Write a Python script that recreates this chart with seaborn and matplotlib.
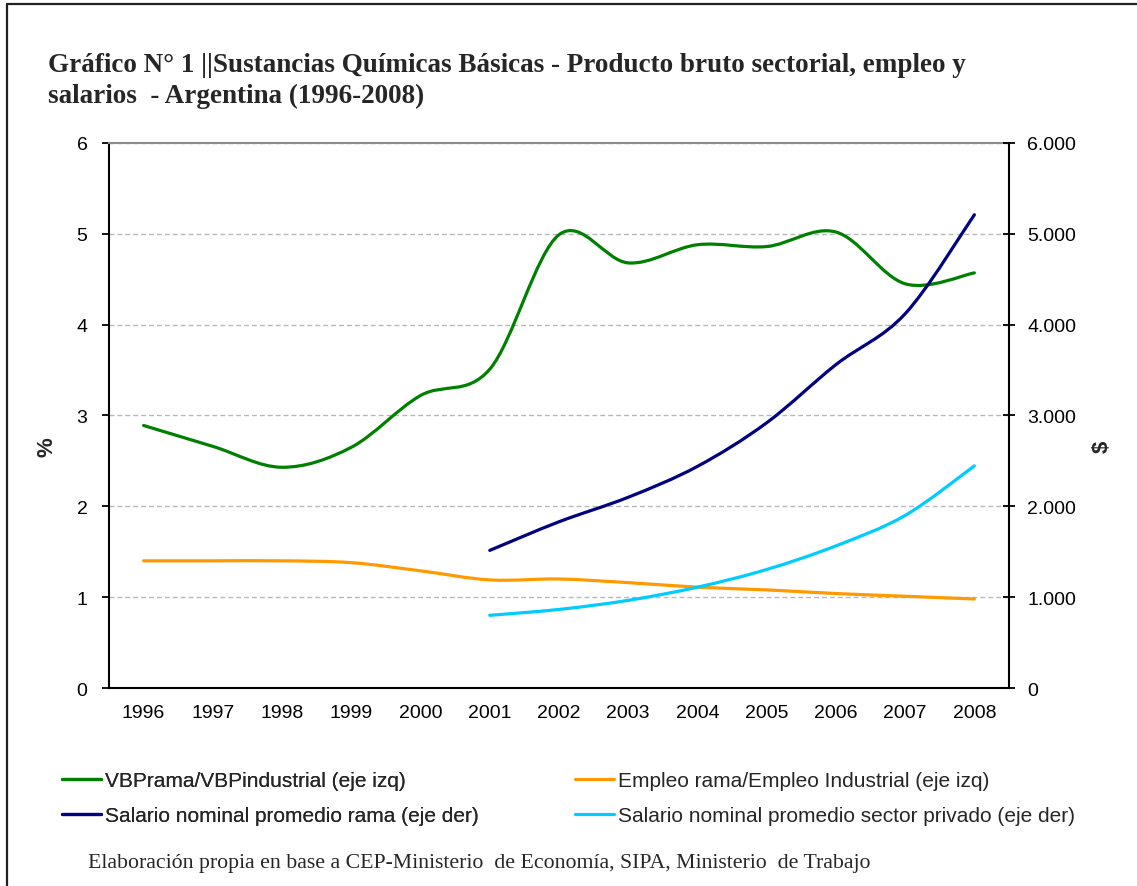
import numpy as np
import pandas as pd
import matplotlib
matplotlib.use("Agg")
import matplotlib.pyplot as plt
from matplotlib.path import Path
from matplotlib.patches import PathPatch
from matplotlib.lines import Line2D
from matplotlib.ticker import FuncFormatter
import seaborn as sns

# ---- data -------------------------------------------------------------
years = list(range(1996, 2009))
vbp_share = [2.89, 2.66, 2.43, 2.65, 3.22, 3.51, 4.99, 4.68, 4.88, 4.86, 5.02, 4.45, 4.57]
empleo_share = [1.40, 1.40, 1.40, 1.38, 1.29, 1.19, 1.20, 1.16, 1.11, 1.08, 1.04, 1.01, 0.98]
sal_years = list(range(2001, 2009))
salario_rama = [1515, 1830, 2100, 2440, 2920, 3560, 4120, 5210]
salario_privado = [800, 865, 965, 1110, 1305, 1565, 1900, 2445]

lbl_vbp = "VBPrama/VBPindustrial (eje izq)"
lbl_emp = "Empleo rama/Empleo Industrial (eje izq)"
lbl_sr = "Salario nominal promedio rama (eje der)"
lbl_sp = "Salario nominal promedio sector privado (eje der)"

c_vbp, c_emp, c_sr, c_sp = "#008000", "#FF9900", "#000080", "#00CCFF"

left_df = pd.DataFrame({"pos": [y - years[0] for y in years],
                        "vbp": vbp_share, "emp": empleo_share})
right_df = pd.DataFrame({"pos": [y - years[0] for y in sal_years],
                         "rama": salario_rama, "priv": salario_privado})

sns.set_theme(style="white")
plt.rcParams["font.family"] = ["Liberation Sans", "DejaVu Sans"]

fig = plt.figure(figsize=(11.37, 8.87), dpi=100)
ax = fig.add_axes([0.09587, 0.22322, 0.79155, 0.61444])
ax2 = ax.twinx()

LW = 2.3


def smooth(line, target_ax):
    """Replace a polyline with a smooth cubic Bezier through its vertices."""
    pts = np.asarray(line.get_xydata(), dtype=float)
    n = len(pts)
    verts, codes = [pts[0]], [Path.MOVETO]
    for i in range(n - 1):
        p0 = pts[i - 1] if i > 0 else pts[i]
        p1, p2 = pts[i], pts[i + 1]
        p3 = pts[i + 2] if i + 2 < n else pts[i + 1]
        verts += [p1 + (p2 - p0) / 6.0, p2 - (p3 - p1) / 6.0, p2]
        codes += [Path.CURVE4] * 3
    patch = PathPatch(Path(verts, codes), fill=False, edgecolor=line.get_color(),
                      lw=line.get_linewidth(), capstyle="round", joinstyle="round",
                      transform=target_ax.transData, zorder=3)
    target_ax.add_patch(patch)
    line.set_visible(False)


sns.lineplot(data=left_df, x="pos", y="vbp", ax=ax, color=c_vbp, lw=LW)
sns.lineplot(data=left_df, x="pos", y="emp", ax=ax, color=c_emp, lw=LW)
sns.lineplot(data=right_df, x="pos", y="rama", ax=ax2, color=c_sr, lw=LW)
sns.lineplot(data=right_df, x="pos", y="priv", ax=ax2, color=c_sp, lw=LW)
for a in (ax, ax2):
    for ln in list(a.get_lines()):
        smooth(ln, a)

# ---- axes -------------------------------------------------------------
TICK_FS = 14
ax.set_xlim(-0.5, len(years) - 0.5)
ax.set_ylim(0, 6)
ax2.set_ylim(0, 6000)
ax.set_xlabel("")
ax.set_ylabel("")
ax2.set_ylabel("")

ax.set_xticks(np.arange(len(years)))
ax.set_xticklabels([str(y) for y in years])
ax.set_xticks(np.arange(-0.5, len(years), 1.0), minor=True)
ax.tick_params(axis="x", which="major", length=0, pad=11.5, labelsize=TICK_FS, colors="black")
ax.tick_params(axis="x", which="minor", length=5, width=1.3, direction="out", color="black")

ax.set_yticks(range(0, 7))
ax.set_yticklabels([str(v) for v in range(0, 7)])
ax.tick_params(axis="y", which="major", length=5, width=1.3, direction="out",
               pad=10.5, labelsize=TICK_FS, colors="black", left=True)

ax2.set_yticks(range(0, 7000, 1000))
ax2.yaxis.set_major_formatter(FuncFormatter(lambda v, p: f"{int(v):,}".replace(",", ".")))
ax2.tick_params(axis="y", which="major", length=8, width=1.3, direction="inout",
                pad=9, labelsize=TICK_FS, colors="black", right=True)

ax.yaxis.grid(True, linestyle=(0, (3.5, 2.2)), color="#b8b8b8", lw=1.0)
ax.xaxis.grid(False)
ax2.grid(False)
ax.set_axisbelow(True)

for side in ("left", "bottom"):
    ax.spines[side].set_color("black")
    ax.spines[side].set_linewidth(1.5)
ax.spines["top"].set_color("#8c8c8c")
ax.spines["top"].set_linewidth(1.5)
ax.spines["right"].set_visible(False)
for side in ("left", "bottom", "top"):
    ax2.spines[side].set_visible(False)
ax2.spines["right"].set_color("black")
ax2.spines["right"].set_linewidth(1.5)
ax2.spines["right"].set_visible(True)

# ---- text -------------------------------------------------------------
serif = ["Liberation Serif", "DejaVu Serif"]
fig.text(0.0422, 1 - 72 / 887,
         "Gráfico N° 1 ||Sustancias Químicas Básicas - Producto bruto sectorial, empleo y",
         family=serif, weight="bold", fontsize=19.5, ha="left", va="baseline")
fig.text(0.0422, 1 - 103 / 887, "salarios  - Argentina (1996-2008)",
         family=serif, weight="bold", fontsize=19.5, ha="left", va="baseline")

fig.text(47 / 1137, 1 - 447 / 887, "%", rotation=90, weight="bold", fontsize=16,
         ha="center", va="center")
fig.text(1102 / 1137, 1 - 447 / 887, "$", rotation=90, weight="bold", fontsize=16,
         ha="center", va="center")

fig.text(88 / 1137, 1 - 868 / 887,
         "Elaboración propia en base a CEP-Ministerio  de Economía, SIPA, Ministerio  de Trabajo",
         family=serif, fontsize=15.7, ha="left", va="baseline")

# ---- legend -----------------------------------------------------------
def handle(color, label):
    return Line2D([], [], color=color, lw=LW, label=label)


leg_kw = dict(frameon=False, fontsize=15, handlelength=1.85, handletextpad=0.2,
              labelspacing=0.75, borderpad=0, borderaxespad=0, loc="center left")
leg1 = fig.legend(handles=[handle(c_vbp, lbl_vbp), handle(c_sr, lbl_sr)],
                  bbox_to_anchor=(62 / 1137, 1 - 799 / 887), **leg_kw)
fig.add_artist(leg1)
fig.legend(handles=[handle(c_emp, lbl_emp), handle(c_sp, lbl_sp)],
           bbox_to_anchor=(575 / 1137, 1 - 799 / 887), **leg_kw)

# ---- outer frame --------------------------------------------------------
top_y = 1 - 5 / 887
left_x = 7 / 1137
fig.add_artist(Line2D([left_x, 1.0], [top_y, top_y], transform=fig.transFigure,
                      color="#222222", lw=1.6))
fig.add_artist(Line2D([left_x, left_x], [0.0, top_y], transform=fig.transFigure,
                      color="#222222", lw=1.6))

fig.savefig("out.png", dpi=100, facecolor="white")
